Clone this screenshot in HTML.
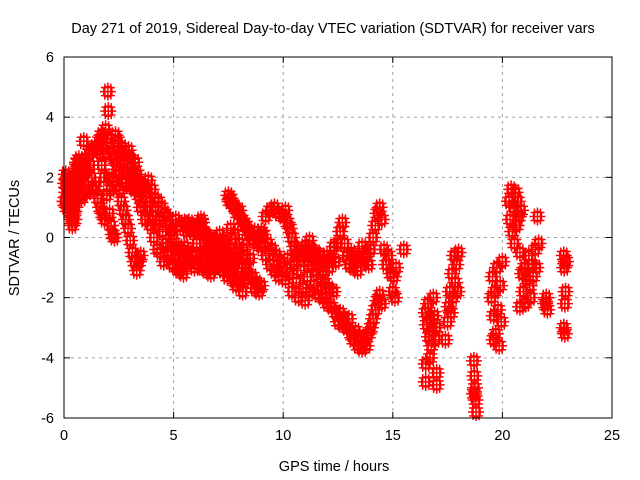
<!DOCTYPE html>
<html><head><meta charset="utf-8"><style>
body{margin:0;background:#fff;}
svg{display:block;font-family:"Liberation Sans",sans-serif;}
</style></head><body>
<svg id="chart" width="640" height="480">
<rect width="640" height="480" fill="#fff"/>
<text x="333" y="33" text-anchor="middle" font-size="14.5">Day 271 of 2019, Sidereal Day-to-day VTEC variation (SDTVAR) for receiver vars</text>
<text x="334" y="471" text-anchor="middle" font-size="14.5">GPS time / hours</text>
<text transform="translate(19,238) rotate(-90)" text-anchor="middle" font-size="14.5">SDTVAR / TECUs</text>
<g id="grid"></g>
<g id="ticks"></g>
<g id="marks"></g>
<rect x="64" y="57" width="548" height="361" fill="none" stroke="#000" stroke-width="1"/>
</svg>
<script>
const xTicks=[0,5,10,15,20,25];
const yTicks=[-6,-4,-2,0,2,4,6];
const segEarly=[[0.02,1.2],[0.05,1.8],[0.08,2.1],[0.1,1.5],[0.12,1.0],[0.15,1.9],[0.18,1.3],[0.2,2.0],[0.22,1.6],[0.25,1.1],[0.28,0.8],[0.3,1.4],[0.33,0.6],[0.35,1.0],[0.38,0.4],[0.4,1.6],[0.42,0.8],[0.45,1.2],[0.48,0.6],[0.5,1.7],[0.52,1.0],[0.55,2.3],[0.58,1.8],[0.6,2.5],[0.63,2.1],[0.65,1.5],[0.68,2.6],[0.7,2.0],[0.72,1.4],[0.75,2.4],[0.78,2.0],[0.8,1.3],[0.82,2.5],[0.85,2.0],[0.9,3.2],[0.95,2.6],[1.0,2.2],[1.05,1.5],[1.1,1.6],[1.15,2.8],[1.2,2.4],[1.25,2.0],[1.3,2.9],[1.35,1.6],[1.4,3.0],[1.45,1.7],[1.5,2.9],[1.55,1.3],[1.6,3.2],[1.65,2.8],[1.65,1.0],[1.7,3.4],[1.72,2.4],[1.75,0.8],[1.8,3.3],[1.82,2.0],[1.85,0.6],[1.9,3.6],[1.92,2.8],[1.95,1.4],[2.0,3.3],[2.0,4.85],[2.02,4.2],[2.05,2.0],[2.08,0.8],[2.1,3.0],[2.12,1.6],[2.15,0.4],[2.2,2.8],[2.22,0.1],[2.25,1.9],[2.3,2.6],[2.3,0.0],[2.35,3.4],[2.38,1.7],[2.4,2.4],[2.45,3.2],[2.5,2.1],[2.55,1.6],[2.6,2.8],[2.62,1.2],[2.65,3.0],[2.7,2.2],[2.72,0.9],[2.75,2.6],[2.8,1.8],[2.82,0.6],[2.85,2.7],[2.9,2.2],[2.92,0.3],[2.95,2.9],[3.0,1.7],[3.02,-0.1],[3.05,2.6],[3.1,2.0],[3.12,-0.5],[3.15,2.2],[3.2,1.6],[3.22,-0.8],[3.25,2.5],[3.3,1.9],[3.32,-1.1],[3.35,2.1],[3.4,1.4],[3.42,-0.8],[3.45,1.6],[3.5,-0.6],[3.5,1.0]];
const segMid1=[[3.55,1.8],[3.6,1.2],[3.65,1.7],[3.7,0.6],[3.75,1.5],[3.8,0.9],[3.85,1.9],[3.9,1.2],[3.95,0.4],[4.0,1.6],[4.05,0.7],[4.1,0.0],[4.15,1.3],[4.2,0.4],[4.25,-0.4],[4.3,1.2],[4.35,0.6],[4.4,-0.5],[4.45,1.0],[4.5,0.2],[4.55,-0.8],[4.6,0.8],[4.65,-0.2],[4.7,0.7],[4.75,-0.6],[4.8,0.4],[4.85,-0.3],[4.9,0.2],[4.95,-0.9],[5.0,0.1],[5.05,-0.6],[5.1,-0.3],[5.15,-1.0],[5.2,-0.6],[5.25,-1.1],[5.3,-0.4],[5.35,-1.0],[5.4,-0.7],[5.45,-1.2],[5.5,-0.3],[5.55,-0.8],[5.6,0.2],[5.65,-0.5],[5.7,0.5],[5.75,-0.8],[5.8,0.3],[5.85,-0.6],[5.9,0.2],[5.95,-1.0],[6.0,-0.6],[6.05,-0.2],[6.1,-0.9],[6.15,0.4],[6.2,-0.5],[6.25,0.6],[6.3,-1.0],[6.35,0.2],[6.4,-0.6],[6.45,0.1],[6.5,-1.1],[6.55,-0.4],[6.6,-0.9],[6.65,-0.3],[6.7,-1.2],[6.75,-0.5],[6.8,-0.8],[6.85,-0.2],[6.9,-1.0],[6.95,-0.6],[7.0,-0.1],[7.05,-0.9],[7.1,0.1],[7.15,-0.7],[7.2,-0.3],[7.25,-1.1],[7.3,-0.5],[7.35,-0.9],[7.4,-0.2],[7.45,-1.3],[7.5,-0.6],[7.55,-1.0],[7.6,-0.4],[7.65,-1.2],[7.7,-0.8],[7.75,-1.4],[7.8,-0.9],[7.85,-1.6],[7.9,-0.5],[7.95,-1.3],[8.0,-0.7],[8.05,-1.5],[8.1,-1.0],[8.15,-1.8],[8.2,-0.6],[8.25,-1.4],[8.3,-0.9],[8.4,-1.2],[8.5,-0.7],[8.6,-1.3],[8.7,-1.7],[8.8,-1.5],[8.9,-1.8],[9.0,-1.6]];
const segMid2=[[7.5,1.4],[7.55,1.2],[7.6,1.3],[7.7,1.1],[7.8,1.0],[7.9,0.8],[8.0,0.9],[8.1,0.6],[8.2,0.5],[8.3,0.4],[8.4,0.2],[8.5,0.1],[8.6,-0.1],[8.7,0.2],[8.8,-0.2],[8.9,0.0],[9.0,-0.3],[9.1,0.1],[9.2,-0.6],[9.3,-0.2],[9.4,-0.9],[9.5,-0.4],[9.6,-1.1],[9.7,-0.6],[9.8,-1.3],[9.9,-0.8],[10.0,-1.0],[10.1,-1.4],[10.2,-0.7],[10.3,-1.2],[10.4,-1.8],[10.5,-0.9],[10.6,-1.5],[10.7,-2.0],[10.8,-1.1],[10.9,-1.7],[11.0,-2.1],[11.1,-1.3],[11.2,-1.8],[11.3,-0.9],[11.4,-1.6],[11.5,-1.1],[11.6,-1.9],[11.7,-1.4],[11.8,-2.0],[11.9,-1.5],[12.0,-2.2],[12.1,-1.7],[12.2,-2.3],[12.3,-1.8],[12.4,-2.5],[12.5,-2.8],[12.6,-2.5],[12.7,-2.9],[12.8,-2.7],[12.9,-3.0],[13.0,-2.7],[13.1,-3.2],[13.2,-3.4],[13.3,-3.1],[13.4,-3.6],[13.5,-3.3],[13.6,-3.7],[13.7,-3.4],[13.8,-3.6],[13.9,-3.2],[14.0,-3.0],[14.1,-2.7],[14.2,-2.4],[14.3,-2.1],[14.4,-1.9],[14.5,-2.2]];
const segMid3=[[9.0,0.2],[9.2,0.7],[9.4,0.9],[9.6,1.0],[9.8,0.8],[10.0,0.7],[10.1,0.9],[10.2,0.5],[10.3,0.3],[10.4,0.0],[10.5,-0.3],[10.6,-0.6],[10.7,-0.4],[10.8,-0.8],[10.9,-0.6],[11.0,-0.3],[11.1,-0.5],[11.2,-0.1],[11.3,-0.4],[11.4,-0.7],[11.5,-0.5],[11.6,-0.9],[11.7,-0.6],[11.8,-1.1],[11.9,-0.8],[12.0,-0.6],[12.1,-1.0],[12.2,-0.7],[12.3,-0.3],[12.4,-0.8],[12.5,-0.2],[12.6,0.2],[12.7,0.5],[12.8,-0.2],[12.9,-0.6],[13.0,-0.9],[13.1,-0.5],[13.2,-1.0],[13.3,-0.6],[13.4,-1.1],[13.5,-0.7],[13.6,-0.3],[13.7,-0.8],[13.8,-0.5],[13.9,-0.9],[14.0,-0.4],[14.1,0.0],[14.2,0.4],[14.3,0.8],[14.4,1.0],[14.5,0.6],[14.6,-0.4],[14.7,-0.9],[14.8,-0.6],[14.9,-1.2],[15.0,-1.8],[15.05,-1.3],[15.1,-2.0],[15.15,-1.0],[15.5,-0.4]];
const segMid4=[[5.1,0.6],[5.3,0.4],[5.5,0.5],[5.7,0.3],[5.9,0.4],[6.1,0.2],[6.3,0.5],[6.5,0.1],[6.7,0.0],[6.9,-0.2],[7.1,-0.4],[7.3,-0.1],[7.6,0.3],[7.8,0.1],[8.0,-0.2],[8.2,-0.4]];
const segLate=[[16.5,-2.5],[16.55,-2.9],[16.6,-2.2],[16.65,-3.3],[16.7,-2.7],[16.75,-3.6],[16.8,-3.1],[16.85,-2.0],[16.9,-2.6],[16.95,-3.4],[17.0,-3.0],[16.5,-4.2],[16.5,-4.8],[17.0,-4.5],[17.0,-4.9],[16.7,-4.0],[17.5,-2.8],[17.55,-2.3],[17.6,-1.8],[17.65,-2.5],[17.7,-1.2],[17.75,-2.0],[17.8,-0.6],[17.85,-1.5],[17.9,-0.9],[17.95,-1.8],[18.0,-0.5],[17.4,-3.4],[18.7,-4.1],[18.72,-4.6],[18.75,-5.0],[18.78,-5.4],[18.8,-5.8],[18.7,-5.2],[19.5,-2.0],[19.55,-1.3],[19.6,-2.6],[19.65,-1.8],[19.7,-3.2],[19.75,-1.0],[19.8,-2.4],[19.85,-3.6],[19.9,-1.6],[19.95,-2.8],[20.0,-0.8],[19.6,-3.4],[20.3,1.2],[20.35,0.6],[20.4,1.6],[20.45,0.2],[20.5,1.0],[20.55,-0.2],[20.6,1.5],[20.65,0.4],[20.7,1.2],[20.75,0.7],[20.8,-0.5],[20.85,0.9],[20.9,-1.2],[20.95,-1.8],[21.0,-1.0],[21.05,-2.2],[21.1,-1.4],[20.8,-2.3],[21.2,-0.6],[21.25,-1.6],[21.3,-2.0],[21.35,-0.9],[21.4,-1.3],[21.5,-0.4],[21.55,-1.0],[21.6,0.7],[21.65,-0.2],[22.0,-2.0],[22.05,-2.4],[21.95,-2.2],[22.8,-0.6],[22.82,-1.0],[22.85,-2.2],[22.8,-3.0],[22.85,-3.2],[22.9,-0.8],[22.88,-1.8]];
const series=[segEarly,segMid1,segMid2,segMid3,segMid4,segLate];

const X0=64,X1=612,Y0=418,Y1=57;
const xs=v=>X0+(v-0)/(25-0)*(X1-X0);
const ys=v=>Y0-(v+6)/12*(Y0-Y1);
const NS='http://www.w3.org/2000/svg';
const grid=document.getElementById('grid'),ticks=document.getElementById('ticks'),marks=document.getElementById('marks');
function mk(tag,attrs,parent){const e=document.createElementNS(NS,tag);for(const k in attrs)e.setAttribute(k,attrs[k]);parent.appendChild(e);return e;}
xTicks.forEach(t=>{const x=xs(t);
 if(t>0&&t<25){const g=mk('line',{x1:x,x2:x,y1:Y0,y2:Y1,stroke:'#a0a0a0','stroke-dasharray':'3,4'},grid);
 
 }
 mk('line',{x1:x,x2:x,y1:Y0,y2:Y0-6,stroke:'#000'},ticks);
 mk('line',{x1:x,x2:x,y1:Y1,y2:Y1+6,stroke:'#000'},ticks);
 const l=mk('text',{x:x,y:Y0+22,'text-anchor':'middle','font-size':'14.5'},ticks);l.textContent=t;
 
 });
yTicks.forEach(t=>{const y=ys(t);
 if(t>-6&&t<6){const g=mk('line',{x1:X0,x2:X1,y1:y,y2:y,stroke:'#a0a0a0','stroke-dasharray':'3,4'},grid);
 
 }
 mk('line',{x1:X0,x2:X0+6,y1:y,y2:y,stroke:'#000'},ticks);
 mk('line',{x1:X1,x2:X1-6,y1:y,y2:y,stroke:'#000'},ticks);
 const l=mk('text',{x:X0-10,y:y+5,'text-anchor':'end','font-size':'14.5'},ticks);l.textContent=t;
 
 });
const offs=[[0,0],[-4,0],[4,0],[0,-5],[0,5],[-3,-4],[3,4],[3,-4],[-3,4]];
series.forEach(seg=>seg.forEach(p=>{const x=xs(p[0]),y=ys(p[1]);
 let d='';offs.forEach(o=>{const cx=x+o[0],cy=y+o[1];d+=`M${cx-4},${cy}h8M${cx},${cy-4}v8`;});
 const m=mk('path',{d:d,stroke:'#ff0000','stroke-width':'1.5',fill:'none'},marks);
 
 }));
</script>
</body></html>
